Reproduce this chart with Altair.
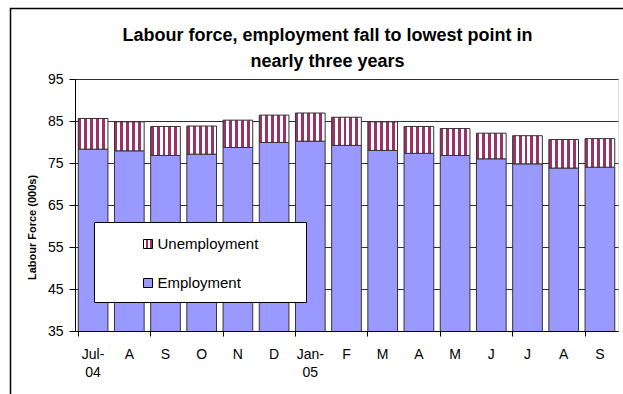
import json
import altair as alt
import pandas as pd

# ---- data ----
months = ["Jul-04", "Aug-04", "Sep-04", "Oct-04", "Nov-04", "Dec-04", "Jan-05",
          "Feb-05", "Mar-05", "Apr-05", "May-05", "Jun-05", "Jul-05", "Aug-05", "Sep-05"]
tick_labels = ["Jul-|04", "A", "S", "O", "N", "D", "Jan-|05", "F", "M", "A", "M", "J", "J", "A", "S"]
employment = [78.3, 77.9, 76.8, 77.1, 78.7, 79.9, 80.2, 79.2, 78.0, 77.3, 76.8, 76.0, 74.8, 73.8, 74.0]
unemployment = [7.3, 6.9, 6.9, 6.7, 6.5, 6.5, 6.7, 6.7, 6.8, 6.4, 6.4, 6.1, 6.7, 6.8, 6.8]
series = ["Unemployment", "Employment"]
y_ticks = [35, 45, 55, 65, 75, 85, 95]

title_lines = ["Labour force, employment fall to lowest point in", "nearly three years"]
y_title = "Labour Force (000s)"

FONT = "Arial, Liberation Sans, sans-serif"
EMP_COLOR = "#9999FF"
UNEMP_COLOR = "#993366"
EDGE = "#333333"

df = pd.DataFrame({"month": months, "employment": employment, "unemployment": unemployment})


def stripes(n, c1, c2):
    stops = []
    for i in range(n):
        a, m, b = i / n, (i + 0.5) / n, (i + 1) / n
        stops += [{"color": c1, "offset": a}, {"color": c1, "offset": m},
                  {"color": c2, "offset": m}, {"color": c2, "offset": b}]
    return {"gradient": "linear", "x1": 0, "x2": 1, "y1": 0, "y2": 0, "stops": stops}


label_expr = f"split({json.dumps(tick_labels)}[indexof({json.dumps(months)}, datum.value)], '|')"
tick_test = f"indexof({json.dumps(months[::2])}, datum.value) >= 0"

x_enc = alt.X(
    "month:N", sort=months,
    scale=alt.Scale(paddingInner=0.18, paddingOuter=0.09),
    axis=alt.Axis(
        title=None, labelAngle=0, labelExpr=label_expr, labelFont=FONT, labelFontSize=14,
        labelColor="black", labelPadding=11, labelLineHeight=18,
        bandPosition=0, ticks=True, tickSize=5, tickColor="black",
        tickOpacity={"condition": {"test": tick_test, "value": 1}, "value": 0},
        domainColor="black", grid=False,
    ),
)

y_axis = alt.Axis(
    title=y_title, values=y_ticks, titleFont=FONT, titleFontSize=11, titleFontWeight="bold",
    titleColor="black", titleX=-43, titleY=148, titleAngle=-90, titleAlign="center",
    titleBaseline="middle",
    labelFont=FONT, labelFontSize=14, labelColor="black", labelPadding=6,
    tickSize=6, tickColor="black", domainColor="black",
    grid=True, gridColor="#303030", gridWidth=1,
)
y_scale = alt.Scale(domain=[35, 95], nice=False, zero=False)

emp_bars = alt.Chart(df).mark_bar(
    clip=True, fill=EMP_COLOR, stroke=EDGE, strokeWidth=1
).encode(
    x=x_enc,
    y=alt.Y("employment:Q", scale=y_scale, axis=y_axis),
)

unemp_bars = alt.Chart(df).transform_calculate(
    total="datum.employment + datum.unemployment"
).mark_bar(
    clip=True, fill=stripes(5, UNEMP_COLOR, "#FFFFFF"), stroke=EDGE, strokeWidth=1
).encode(
    x=x_enc,
    y=alt.Y("total:Q", scale=y_scale, axis=y_axis),
    y2="employment:Q",
)

# ---- legend (drawn inside the plot, as in the reference) ----
leg_df = pd.DataFrame({"series": series})
one = alt.Data(values=[{"k": 1}])

legend_box = alt.Chart(one).mark_rect(fill="white", stroke="black", strokeWidth=1).encode(
    x=alt.value(19.5), x2=alt.value(231.5), y=alt.value(143.5), y2=alt.value(223.5)
)

sym_unemp = alt.Chart(one).mark_rect(
    fill=stripes(2, "#FFFFFF", UNEMP_COLOR), stroke="black", strokeWidth=1
).encode(x=alt.value(68.5), x2=alt.value(77.5), y=alt.value(160.5), y2=alt.value(169.5))

sym_emp = alt.Chart(one).mark_rect(fill=EMP_COLOR, stroke="black", strokeWidth=1).encode(
    x=alt.value(68.5), x2=alt.value(77.5), y=alt.value(199.5), y2=alt.value(208.5)
)

txt_unemp = alt.Chart(leg_df).transform_filter(alt.datum.series == series[0]).mark_text(
    align="left", baseline="alphabetic", font=FONT, fontSize=15, color="black"
).encode(text="series:N", x=alt.value(82.5), y=alt.value(170))

txt_emp = alt.Chart(leg_df).transform_filter(alt.datum.series == series[1]).mark_text(
    align="left", baseline="alphabetic", font=FONT, fontSize=15, color="black"
).encode(text="series:N", x=alt.value(82.5), y=alt.value(208.5))

# ---- outer chart frame (left and top edges visible in the crop) ----
frame_left = alt.Chart(one).mark_rule(color="black", strokeWidth=1.5, clip=False).encode(
    x=alt.value(-64.5), y=alt.value(-71), y2=alt.value(330)
)
frame_top = alt.Chart(one).mark_rule(color="black", strokeWidth=1.5, clip=False).encode(
    x=alt.value(-65), x2=alt.value(560), y=alt.value(-70.5)
)

chart = alt.layer(
    emp_bars, unemp_bars, legend_box, sym_unemp, sym_emp, txt_unemp, txt_emp,
    frame_left, frame_top,
).properties(
    width=543,
    height=252,
    autosize=alt.AutoSizeParams(type="none"),
    padding={"left": 75, "top": 79, "right": 5, "bottom": 63},
    title=alt.TitleParams(
        text=title_lines, font=FONT, fontSize=18, fontWeight="bold", color="black",
        anchor="middle", frame="group", dx=-19, dy=76, offset=12, lineHeight=26,
    ),
).configure_view(
    stroke="black", strokeWidth=1
).configure(background="white")

chart.save("out.html", embed_options={"renderer": "svg", "actions": False})
